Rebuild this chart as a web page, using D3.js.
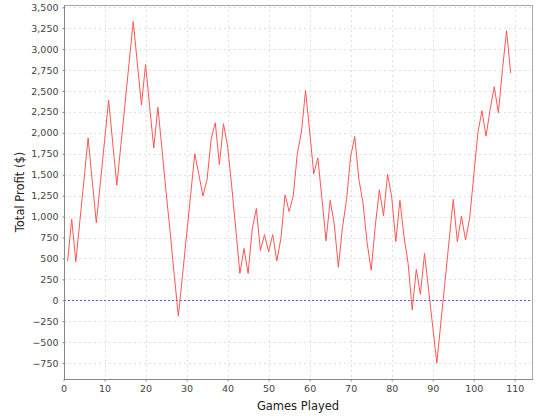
<!DOCTYPE html>
<html>
<head>
<meta charset="utf-8">
<script src="https://cdn.jsdelivr.net/npm/d3@7"></script>
<style>
  html, body { margin: 0; padding: 0; background: #ffffff; }
  svg { display: block; font-family: "DejaVu Sans", sans-serif; }
</style>
</head>
<body>
<svg id="chart" width="540" height="420"></svg>
<script>
// ---- data ----
const games = d3.range(1, 110);
const profit = [
  470, 970, 460, 950, 1440, 1940, 1430, 925, 1410, 1900,
  2390, 1880, 1375, 1860, 2350, 2840, 3330, 2830, 2335, 2815,
  2315, 1820, 2305, 1810, 1295, 815, 300, -190, 295, 780,
  1265, 1750, 1500, 1245, 1445, 1930, 2120, 1620, 2110, 1840,
  1365, 850, 320, 620, 320, 850, 1095, 595, 785, 580,
  785, 470, 740, 1260, 1060, 1245, 1755, 2010, 2505, 2020,
  1510, 1700, 1210, 710, 1195, 910, 395, 870, 1205, 1720,
  1955, 1445, 1165, 690, 360, 890, 1320, 1010, 1505, 1235,
  700, 1195, 760, 440, -115, 370, 70, 560, 125, -315,
  -750, -260, 225, 720, 1205, 700, 1005, 720, 980, 1485,
  2000, 2265, 1960, 2280, 2550, 2240, 2755, 3220, 2715
];
const xTicks = [0, 10, 20, 30, 40, 50, 60, 70, 80, 90, 100, 110];
const yTicks = [-750, -500, -250, 0, 250, 500, 750, 1000, 1250, 1500, 1750, 2000, 2250, 2500, 2750, 3000, 3250, 3500];
const xLabel = "Games Played";
const yLabel = "Total Profit ($)";

// ---- layout ----
const plot = { left: 64, right: 532, top: 5, bottom: 379 };
const svg = d3.select("#chart");

const x = d3.scaleLinear().domain([0, 114.2]).range([63.5, plot.right]);
const y = d3.scaleLinear().domain([-940, 3527]).range([plot.bottom, plot.top]);

const fmt = d3.format(",");

// plot background
svg.append("rect")
  .attr("x", plot.left).attr("y", plot.top)
  .attr("width", plot.right - plot.left).attr("height", plot.bottom - plot.top)
  .attr("fill", "#ffffff");

// gridlines
const grid = svg.append("g").attr("shape-rendering", "crispEdges");
grid.selectAll("line.v").data(xTicks.filter(d => d > 0)).join("line")
  .attr("x1", d => Math.round(x(d)) + 0.5).attr("x2", d => Math.round(x(d)) + 0.5)
  .attr("y1", plot.top).attr("y2", plot.bottom)
  .attr("stroke", "#e0e0e0").attr("stroke-width", 1).attr("stroke-dasharray", "2,3");
grid.selectAll("line.h").data(yTicks).join("line")
  .attr("x1", plot.left).attr("x2", plot.right)
  .attr("y1", d => Math.round(y(d)) + 0.5).attr("y2", d => Math.round(y(d)) + 0.5)
  .attr("stroke", "#e0e0e0").attr("stroke-width", 1).attr("stroke-dasharray", "2,3");

// zero marker line
svg.append("line")
  .attr("x1", plot.left).attr("x2", plot.right)
  .attr("y1", Math.round(y(0)) + 0.5).attr("y2", Math.round(y(0)) + 0.5)
  .attr("stroke", "#5555ff").attr("stroke-width", 1).attr("stroke-dasharray", "2,2")
  .attr("shape-rendering", "crispEdges");

// data line
const line = d3.line().x((d, i) => x(games[i])).y(d => y(d));
svg.append("path")
  .datum(profit)
  .attr("d", line)
  .attr("fill", "none")
  .attr("stroke", "#ff5555")
  .attr("stroke-width", 1);

// outline (top/right)
svg.append("rect")
  .attr("x", plot.left + 0.5).attr("y", plot.top + 0.5)
  .attr("width", plot.right - plot.left).attr("height", plot.bottom - plot.top)
  .attr("fill", "none").attr("stroke", "#a8a8a8").attr("stroke-width", 1)
  .attr("shape-rendering", "crispEdges");

// axes
const xAxis = d3.axisBottom(x).tickValues(xTicks).tickSize(2).tickPadding(4).tickFormat(d3.format("d"));
const yAxis = d3.axisLeft(y).tickValues(yTicks).tickSize(2).tickPadding(4).tickFormat(fmt);

const gx = svg.append("g").attr("transform", `translate(0,${plot.bottom + 0.5})`).call(xAxis);
const gy = svg.append("g").attr("transform", `translate(${plot.left + 0.5},0)`).call(yAxis);

[gx, gy].forEach(g => {
  g.select(".domain").remove();
  g.selectAll(".tick line").attr("stroke", "#888888");
  g.selectAll(".tick text")
    .attr("fill", "#444444")
    .style("font-family", "'DejaVu Sans', sans-serif")
    .style("font-size", "9.5px");
});

// axis lines
svg.append("line")
  .attr("x1", plot.left + 0.5).attr("x2", plot.left + 0.5)
  .attr("y1", plot.top).attr("y2", plot.bottom + 1)
  .attr("stroke", "#888888").attr("shape-rendering", "crispEdges");
svg.append("line")
  .attr("x1", plot.left).attr("x2", plot.right + 1)
  .attr("y1", plot.bottom + 0.5).attr("y2", plot.bottom + 0.5)
  .attr("stroke", "#888888").attr("shape-rendering", "crispEdges");

// axis labels
svg.append("text")
  .attr("x", (plot.left + plot.right) / 2).attr("y", 410)
  .attr("text-anchor", "middle")
  .style("font-size", "11.5px").attr("fill", "#222222")
  .text(xLabel);
svg.append("text")
  .attr("transform", `translate(24,${(plot.top + plot.bottom) / 2}) rotate(-90)`)
  .attr("text-anchor", "middle")
  .style("font-size", "11.5px").attr("fill", "#222222")
  .text(yLabel);
</script>
</body>
</html>
